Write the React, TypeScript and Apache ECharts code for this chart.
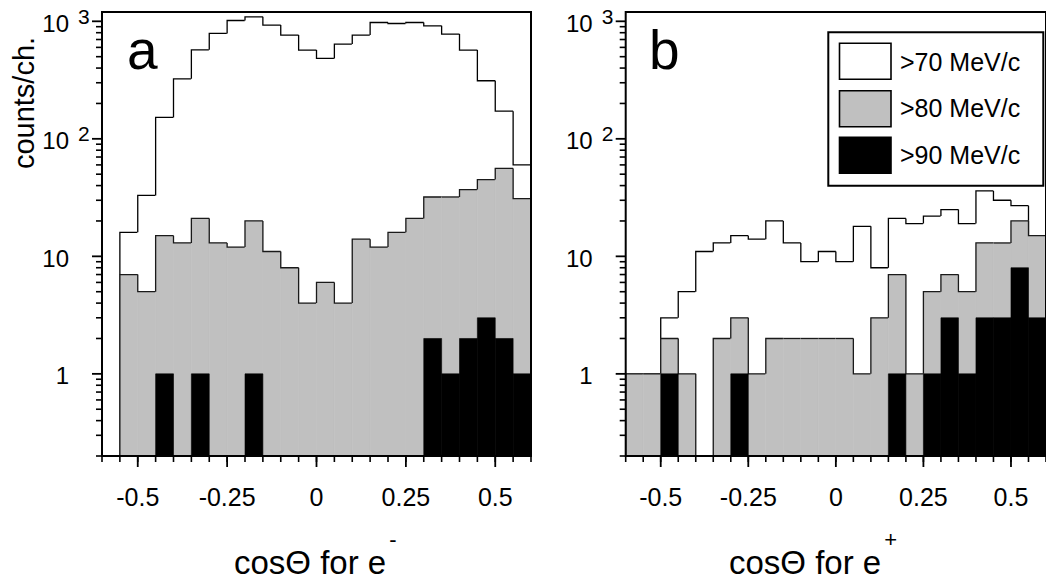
import React, { useEffect, useRef } from 'react';
import * as echarts from 'echarts';

const FONT = "'Liberation Sans', Arial, Helvetica, sans-serif";

const X_MIN = -0.6;
const X_MAX = 0.6;
const Y_MIN = 0.2;
const Y_MAX = 1200;
const BIN_WIDTH = 0.05;

// Panel a (e-): left edges of bins
const binsA = [-0.55, -0.5, -0.45, -0.4, -0.35, -0.3, -0.25, -0.2, -0.15, -0.1, -0.05, 0, 0.05, 0.1, 0.15, 0.2, 0.25, 0.3, 0.35, 0.4, 0.45, 0.5, 0.55];
const countsA70 = [16, 33, 152, 324, 572, 788, 1016, 1092, 928, 763, 569, 483, 640, 763, 977, 958, 977, 916, 778, 569, 312, 172, 60];
const countsA80 = [7, 5, 15, 13, 21, 13, 12, 20, 11, 8, 4, 6, 4, 14, 12, 16, 21, 32, 32, 37, 45, 56, 31];
const countsA90 = [0, 0, 1, 0, 1, 0, 0, 1, 0, 0, 0, 0, 0, 0, 0, 0, 0, 2, 1, 2, 3, 2, 1];

// Panel b (e+): left edges of bins
const binsB = [-0.6, -0.55, -0.5, -0.45, -0.4, -0.35, -0.3, -0.25, -0.2, -0.15, -0.1, -0.05, 0, 0.05, 0.1, 0.15, 0.2, 0.25, 0.3, 0.35, 0.4, 0.45, 0.5, 0.55];
const countsB70 = [1, 1, 3, 5, 11, 13, 15, 14, 20, 13, 9, 11, 9, 18, 8, 21, 19, 22, 25, 19, 36, 30, 27, 15];
const countsB80 = [1, 1, 2, 1, 0, 2, 3, 1, 2, 2, 2, 2, 2, 1, 3, 7, 1, 5, 7, 5, 13, 13, 20, 15];
const countsB90 = [0, 0, 1, 0, 0, 0, 1, 0, 0, 0, 0, 0, 0, 0, 0, 1, 0, 1, 3, 1, 3, 3, 8, 3];

const xMajorTicks = [-0.5, -0.25, 0, 0.25, 0.5];
const xTickLabels = ['-0.5', '-0.25', '0', '0.25', '0.5'];
const xMinorTicks = [-0.6, -0.55, -0.5, -0.45, -0.4, -0.35, -0.3, -0.25, -0.2, -0.15, -0.1, -0.05, 0, 0.05, 0.1, 0.15, 0.2, 0.25, 0.3, 0.35, 0.4, 0.45, 0.5, 0.55, 0.6];
const yMajorTicks = [1, 10, 100, 1000];
const yTickBase = ['1', '10', '10', '10'];
const yTickExp = ['', '', '2', '3'];
const yMinorTicks = [0.2, 0.3, 0.4, 0.5, 0.6, 0.7, 0.8, 0.9, 2, 3, 4, 5, 6, 7, 8, 9, 20, 30, 40, 50, 60, 70, 80, 90, 200, 300, 400, 500, 600, 700, 800, 900];

const seriesNames = ['>70 MeV/c', '>80 MeV/c', '>90 MeV/c'];
const seriesFills = ['#ffffff', '#c0c0c0', '#000000'];
const seriesOutlines = ['#000000', '#1a1a1a', ''];
const panelLetters = ['a', 'b'];
const xTitleBase = 'cosΘ for e';
const xTitleSup = ['-', '+'];
const yTitle = 'counts/ch.';

function histSeries(gridIndex: number, bins: number[], values: number[], k: number) {
  const data = bins.map((x0, i) => [
    x0,
    x0 + BIN_WIDTH,
    values[i],
    i > 0 ? values[i - 1] : 0,
    i === values.length - 1 ? 1 : 0,
  ]);
  const fill = seriesFills[k];
  const outline = seriesOutlines[k];
  return {
    type: 'custom',
    name: seriesNames[k] + (gridIndex ? ' (e+)' : ' (e-)'),
    xAxisIndex: gridIndex,
    yAxisIndex: gridIndex,
    clip: true,
    z: 2 + k,
    encode: { x: [0, 1], y: 2 },
    data,
    renderItem: (params: any, api: any) => {
      const x0 = api.value(0);
      const x1 = api.value(1);
      const v = api.value(2);
      const pv = api.value(3);
      const last = api.value(4);
      const cl = (t: number) => Math.max(t, Y_MIN);
      const pTop = api.coord([x0, cl(v)]);
      const pEnd = api.coord([x1, cl(v)]);
      const pBase = api.coord([x0, Y_MIN]);
      const pPrev = api.coord([x0, cl(pv)]);
      const children: any[] = [];
      if (v > 0) {
        children.push({
          type: 'rect',
          shape: { x: pTop[0], y: pTop[1], width: pEnd[0] - pTop[0], height: pBase[1] - pTop[1] },
          style: { fill, stroke: fill, lineWidth: 0.6 },
        });
      }
      if (outline) {
        const pts = [pPrev, pTop, pEnd];
        if (last) pts.push(api.coord([x1, Y_MIN]));
        children.push({
          type: 'polyline',
          shape: { points: pts },
          style: { stroke: outline, lineWidth: 1.3, fill: null },
        });
      }
      return { type: 'group', children };
    },
  };
}

function decorSeries(gridIndex: number) {
  return {
    type: 'custom',
    name: 'axes' + gridIndex,
    xAxisIndex: gridIndex,
    yAxisIndex: gridIndex,
    clip: false,
    silent: true,
    z: 20,
    encode: { x: 0, y: 1 },
    data: [[0, 1]],
    renderItem: (params: any, api: any) => {
      const tl = api.coord([X_MIN, Y_MAX]);
      const br = api.coord([X_MAX, Y_MIN]);
      const children: any[] = [];
      children.push({
        type: 'rect',
        shape: { x: tl[0], y: tl[1], width: br[0] - tl[0], height: br[1] - tl[1] },
        style: { fill: null, stroke: '#000', lineWidth: 2 },
      });
      yMinorTicks.forEach((v) => {
        const p = api.coord([X_MIN, v]);
        children.push({ type: 'line', shape: { x1: p[0] - 6, y1: p[1], x2: p[0], y2: p[1] }, style: { stroke: '#000', lineWidth: 1.6 } });
      });
      yMajorTicks.forEach((v, i) => {
        const p = api.coord([X_MIN, v]);
        children.push({ type: 'line', shape: { x1: p[0] - 10, y1: p[1], x2: p[0], y2: p[1] }, style: { stroke: '#000', lineWidth: 1.8 } });
        children.push({
          type: 'text',
          x: p[0] - 33,
          y: p[1] + 2,
          style: { text: yTickBase[i], fill: '#000', fontSize: 24, fontFamily: FONT, align: 'right', verticalAlign: 'middle' },
        });
        if (yTickExp[i]) {
          children.push({
            type: 'text',
            x: p[0] - 24,
            y: p[1] - 5,
            style: { text: yTickExp[i], fill: '#000', fontSize: 21, fontFamily: FONT, align: 'left', verticalAlign: 'middle' },
          });
        }
      });
      xMinorTicks.forEach((v) => {
        const p = api.coord([v, Y_MIN]);
        children.push({ type: 'line', shape: { x1: p[0], y1: p[1], x2: p[0], y2: p[1] + 6 }, style: { stroke: '#000', lineWidth: 1.6 } });
      });
      xMajorTicks.forEach((v, i) => {
        const p = api.coord([v, Y_MIN]);
        children.push({ type: 'line', shape: { x1: p[0], y1: p[1], x2: p[0], y2: p[1] + 11 }, style: { stroke: '#000', lineWidth: 1.8 } });
        children.push({
          type: 'text',
          x: p[0],
          y: p[1] + 41,
          style: { text: xTickLabels[i], fill: '#000', fontSize: 25, fontFamily: FONT, align: 'center', verticalAlign: 'middle' },
        });
      });
      return { type: 'group', children };
    },
  };
}

function measure(text: string, size: number) {
  const c = document.createElement('canvas').getContext('2d');
  if (!c) return text.length * size * 0.5;
  c.font = `${size}px ${FONT}`;
  return c.measureText(text).width;
}

export default function App() {
  const ref = useRef<HTMLDivElement>(null);
  useEffect(() => {
    if (!ref.current) return;
    const chart = echarts.init(ref.current, null, { renderer: 'svg' });
    const axisHidden = {
      axisLine: { show: false },
      axisTick: { show: false },
      axisLabel: { show: false },
      splitLine: { show: false },
    };
    const titleSize = 33;
    const baseW = measure(xTitleBase, titleSize);
    const titleLeft = [234, 729];
    const legendY = [61.7, 108.4, 155];
    const swatchY = [43.3, 90.7, 137.3];

    const graphic: any[] = [];
    panelLetters.forEach((t, i) => {
      graphic.push({
        type: 'text',
        x: i === 0 ? 127 : 649,
        y: 50,
        z: 30,
        style: { text: t, fill: '#000', fontSize: 55, fontFamily: FONT, align: 'left', verticalAlign: 'middle' },
      });
      graphic.push({
        type: 'text',
        x: titleLeft[i],
        y: 562,
        style: { text: xTitleBase, fill: '#000', fontSize: titleSize, fontFamily: FONT, align: 'left', verticalAlign: 'middle' },
      });
      graphic.push({
        type: 'text',
        x: titleLeft[i] + baseW + 3,
        y: 539,
        style: { text: xTitleSup[i], fill: '#000', fontSize: 22, fontFamily: FONT, align: 'left', verticalAlign: 'middle' },
      });
    });
    graphic.push({
      type: 'text',
      x: 24,
      y: 103,
      rotation: Math.PI / 2,
      style: { text: yTitle, fill: '#000', fontSize: 29, fontFamily: FONT, align: 'center', verticalAlign: 'middle' },
    });
    graphic.push({
      type: 'rect',
      z: 40,
      shape: { x: 828.3, y: 32.3, width: 215, height: 153.4 },
      style: { fill: '#fff', stroke: '#000', lineWidth: 2 },
    });
    seriesNames.forEach((name, k) => {
      graphic.push({
        type: 'rect',
        z: 41,
        shape: { x: 839.5, y: swatchY[k], width: 51.5, height: 36 },
        style: { fill: seriesFills[k], stroke: '#000', lineWidth: 1.6 },
      });
      graphic.push({
        type: 'text',
        z: 41,
        x: 900,
        y: legendY[k],
        style: { text: name, fill: '#000', fontSize: 25, fontFamily: FONT, align: 'left', verticalAlign: 'middle' },
      });
    });

    chart.setOption({
      animation: false,
      backgroundColor: '#ffffff',
      grid: [
        { left: 102, top: 12, width: 429, height: 444, show: false },
        { left: 625.7, top: 12, width: 428.6, height: 444, show: false },
      ],
      xAxis: [0, 1].map((g) => ({ type: 'value', gridIndex: g, min: X_MIN, max: X_MAX, ...axisHidden })),
      yAxis: [0, 1].map((g) => ({ type: 'log', logBase: 10, gridIndex: g, min: Y_MIN, max: Y_MAX, ...axisHidden })),
      series: [
        histSeries(0, binsA, countsA70, 0),
        histSeries(0, binsA, countsA80, 1),
        histSeries(0, binsA, countsA90, 2),
        decorSeries(0),
        histSeries(1, binsB, countsB70, 0),
        histSeries(1, binsB, countsB80, 1),
        histSeries(1, binsB, countsB90, 2),
        decorSeries(1),
      ],
      graphic,
    });
    return () => chart.dispose();
  }, []);
  return <div ref={ref} style={{ position: 'fixed', left: 0, top: 0, width: 1046, height: 580 }} />;
}
